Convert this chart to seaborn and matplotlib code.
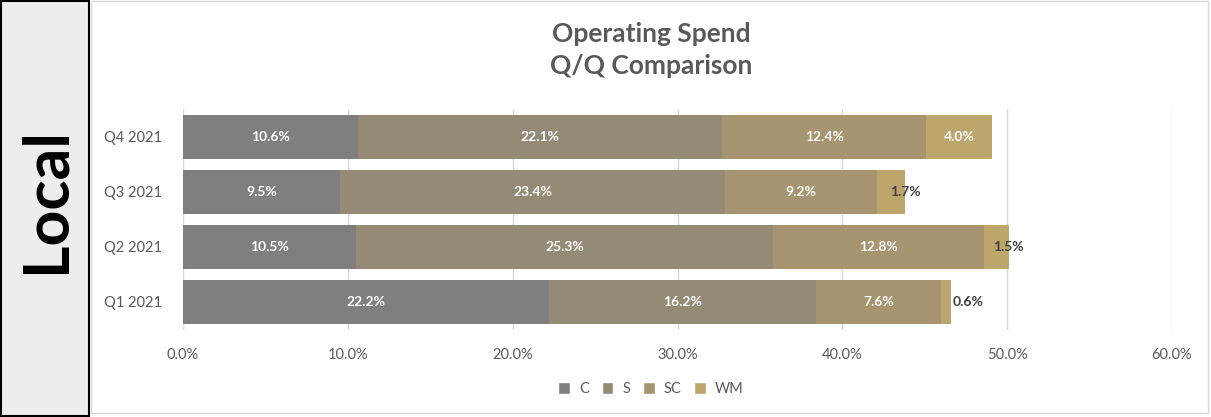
import matplotlib
matplotlib.use("Agg")
import matplotlib.pyplot as plt
import seaborn as sns
import pandas as pd
import numpy as np
from matplotlib.patches import Rectangle
from matplotlib.ticker import FuncFormatter, MultipleLocator

quarters = ["Q4 2021", "Q3 2021", "Q2 2021", "Q1 2021"]
series = ["C", "S", "SC", "WM"]
c_vals = [10.6, 9.5, 10.5, 22.2]
s_vals = [22.1, 23.4, 25.3, 16.2]
sc_vals = [12.4, 9.2, 12.8, 7.6]
wm_vals = [4.0, 1.7, 1.5, 0.6]
colors = ["#7F7F7F", "#948A76", "#A69570", "#BDA66C"]
title = "Operating Spend\nQ/Q Comparison"
side_label = "Local"

sns.set_theme(style="white")
plt.rcParams["font.family"] = ["Lato", "DejaVu Sans"]

vals = np.array([c_vals, s_vals, sc_vals, wm_vals])
cum = np.cumsum(vals, axis=0)
starts = cum - vals

W, H = 1211, 417
fig = plt.figure(figsize=(W / 100, H / 100), dpi=100)

# left panel
fig.patches.append(Rectangle((1 / W, 1 / H), 88 / W, (H - 2) / H, transform=fig.transFigure,
                             facecolor="#EDEDED", edgecolor="black", linewidth=1.5, zorder=-2))
fig.text(47 / W, 1 - 200 / H, side_label, rotation=90, ha="center", va="center",
         fontsize=45, fontweight="bold", color="black")
# chart box
fig.patches.append(Rectangle((91 / W, 4 / H), 1117 / W, (H - 5) / H, transform=fig.transFigure,
                             facecolor="white", edgecolor="#D9D9D9", linewidth=1.0, zorder=-2))

ax = fig.add_axes([183 / W, 1 - 329.5 / H, (1172 - 183) / W, 220 / H])
ax.set_facecolor("none")

for i in range(len(series) - 1, -1, -1):
    df = pd.DataFrame({"quarter": quarters, "value": cum[i]})
    sns.barplot(data=df, x="value", y="quarter", order=quarters, color=colors[i],
                saturation=1, width=0.8, ax=ax, orient="h", zorder=3, linewidth=0)

for i, name in enumerate(series):
    for j, q in enumerate(quarters):
        v = vals[i, j]
        label = f"{v:.1f}%"
        if i == len(series) - 1 and v < 3:
            if v < 1:
                ax.text(cum[i, j] + 0.1, j, label, ha="left", va="center", fontsize=10,
                        fontweight="bold", color="#404040", zorder=5)
            else:
                ax.text(cum[i, j], j, label, ha="center", va="center", fontsize=10,
                        fontweight="bold", color="#404040", zorder=5)
        else:
            ax.text(starts[i, j] + v / 2, j, label, ha="center", va="center", fontsize=10,
                    fontweight="bold", color="white", zorder=5)

ax.set_xlim(0, 60)
ax.set_ylim(3.5, -0.5)
ax.xaxis.set_major_locator(MultipleLocator(10))
ax.xaxis.set_major_formatter(FuncFormatter(lambda x, p: f"{x:.1f}%"))
ax.grid(axis="x", color="#D9D9D9", linewidth=1, zorder=0)
ax.set_axisbelow(True)
for s in ax.spines.values():
    s.set_visible(False)
ax.set_xlabel("")
ax.set_ylabel("")
ax.tick_params(axis="both", length=0, labelsize=10.5, labelcolor="#595959")
ax.tick_params(axis="x", pad=13)
ax.tick_params(axis="y", pad=15)

fig.text(651 / W, 1 - 50 / H, title, ha="center", va="center", fontsize=19,
         fontweight="bold", color="#595959", linespacing=1.45)

handles = [Rectangle((0, 0), 1, 1, facecolor=c) for c in colors]
fig.legend(handles, series, loc="center", bbox_to_anchor=(651 / W, 1 - 389 / H), ncol=4,
           frameon=False, fontsize=10.5, labelcolor="#595959", handlelength=0.8, handleheight=0.8,
           columnspacing=0.9, handletextpad=0.6)

fig.savefig("out.png", dpi=100)
